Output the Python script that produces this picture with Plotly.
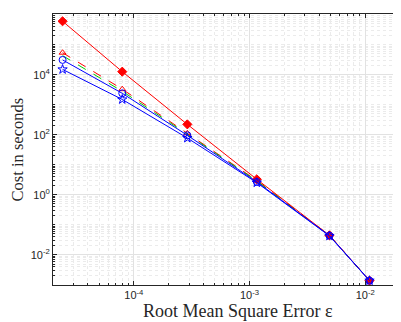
import plotly.graph_objects as go

rmse = [2.42e-5, 7.94e-5, 2.9e-4, 1.156e-3, 4.91e-3, 1.09e-2]

cost_red_solid = [6.0e5, 1.26e4, 222, 3.3, 0.045, 1.4e-3]
cost_red_dash = [5.4e4, 3.3e3, 112, 3.0, 0.045, 1.4e-3]
cost_green_dash = [4.3e4, 2.8e3, 105, 2.9, 0.044, 1.4e-3]
cost_blue_circle = [3.1e4, 2.4e3, 96, 2.7, 0.044, 1.4e-3]
cost_blue_star = [1.5e4, 1.5e3, 78, 2.55, 0.043, 1.4e-3]

x_tickvals = [1e-4, 1e-3, 1e-2]
x_ticktext = ["10<sup>-4</sup>", "10<sup>-3</sup>", "10<sup>-2</sup>"]
y_tickvals = [1e-2, 1e0, 1e2, 1e4, 1e6]
y_ticktext = ["10<sup>-2</sup>", "10<sup>0</sup>", "10<sup>2</sup>", "10<sup>4</sup>", "10<sup>6</sup>"]

fig = go.Figure()

def add(y, color, dash, symbol, size=6):
    fig.add_trace(go.Scatter(
        x=rmse, y=y, mode="lines+markers" if symbol else "lines",
        line=dict(color=color, width=1, dash=dash),
        marker=dict(symbol=symbol or "circle", size=size, color=color,
                    line=dict(color=color, width=1)),
        showlegend=False))

add(cost_red_dash, "#ff0000", "dash", "triangle-up-open", 6)
add(cost_green_dash, "#00cc00", "dash", None)
add(cost_red_solid, "#ff0000", "solid", "diamond", 7)
add(cost_blue_circle, "#0000ff", "solid", "circle-open", 7)
add(cost_blue_star, "#0000ff", "solid", "star-open", 7)

axis_common = dict(
    type="log", showline=True, linecolor="#262626", linewidth=1, mirror="ticks",
    ticks="inside", ticklen=4, tickcolor="#262626", tickmode="array",
    showgrid=True, gridcolor="#e2e2e2", gridwidth=1, zeroline=False,
    automargin=False,
    tickfont=dict(family="Liberation Sans, Arial", size=11, color="#262626"),
    minor=dict(ticks="inside", ticklen=2, tickcolor="#262626", showgrid=True,
               gridcolor="#ebebeb", griddash="dot", dtick="D1"),
)

fig.update_xaxes(**axis_common, range=[-4.699, -1.699],
                 tickvals=x_tickvals, ticktext=x_ticktext)
fig.update_yaxes(**axis_common, range=[-3, 6.02],
                 tickvals=y_tickvals, ticktext=y_ticktext)

fig.add_annotation(text="Root Mean Square Error ε", xref="paper", yref="paper",
                   x=0.533, y=-0.096, xanchor="center", yanchor="middle",
                   showarrow=False,
                   font=dict(family="Liberation Serif, DejaVu Serif", size=18, color="#262626"))
fig.add_annotation(text="Cost in seconds", xref="paper", yref="paper",
                   x=-0.101, y=0.5, xanchor="center", yanchor="middle",
                   textangle=-90, showarrow=False,
                   font=dict(family="Liberation Serif, DejaVu Serif", size=16.5, color="#262626"))

# page body has an 8px default margin, so the figure is sized to the remaining window
fig.update_layout(width=393, height=314, margin=dict(l=45, r=1, t=6, b=37),
                  plot_bgcolor="white", paper_bgcolor="white")

fig.write_html("out.html")
